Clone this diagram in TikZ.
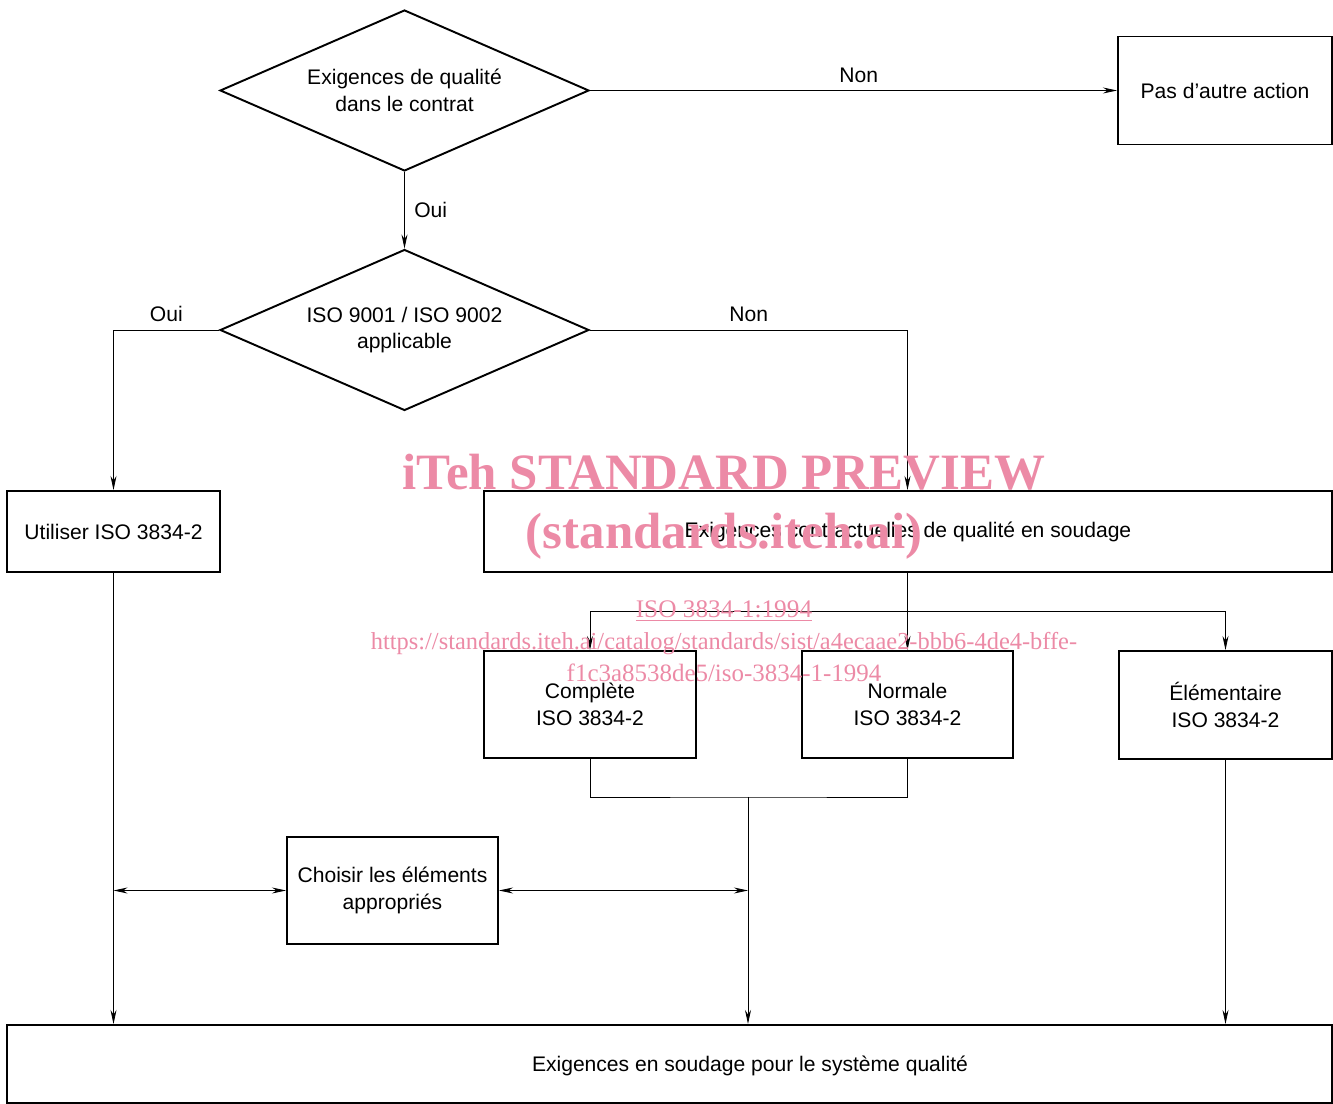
\documentclass[tikz,border=0pt]{standalone}
\usepackage{fontspec}
\setmainfont{Liberation Sans}
\newfontfamily\wmfont{Liberation Serif}
\usepackage{tikz}
\usetikzlibrary{arrows.meta,shapes.geometric,calc}
\definecolor{wmpink}{RGB}{236,138,166}

\begin{document}
\begin{tikzpicture}[x=0.02cm,y=-0.02cm,
    font=\fontsize{12}{15}\selectfont,
    >={Stealth[length=8pt,width=3.4pt]},
    box/.style={draw, line width=1.1pt, align=center, inner sep=0pt},
    decision/.style={draw, diamond, line width=1.1pt, align=center, inner sep=0pt,
        aspect=2.3, minimum width=7.38cm, minimum height=3.22cm},
    link/.style={line width=0.5pt},
    wm/.style={text=wmpink, inner sep=0pt, anchor=base}]
    \useasboundingbox (0,0) rectangle (1333,1104);

    % Decisions
    \node[decision] (contrat) at (404.5,90.5) {Exigences de qualité\\dans le contrat};
    \node[decision] (iso) at (404.5,330) {ISO 9001 / ISO 9002\\applicable};

    % Boxes
    \node[box, minimum width=4.28cm, minimum height=2.16cm] (aucune) at (1225,90.5) {Pas d’autre action};
    \node[box, minimum width=4.26cm, minimum height=1.62cm] (utiliser) at (113.5,531.5) {Utiliser ISO 3834-2};
    \node[box, minimum width=16.96cm, minimum height=1.62cm] (contractuelles) at (908,531.5) {Exigences contractuelles de qualité en soudage};
    \node[box, minimum width=4.24cm, minimum height=2.14cm] (complete) at (590,704.5) {Complète\\ISO 3834-2};
    \node[box, minimum width=4.22cm, minimum height=2.14cm] (normale) at (907.5,704.5) {Normale\\ISO 3834-2};
    \node[box, minimum width=4.26cm, minimum height=2.16cm] (elementaire) at (1225.5,705) {Élémentaire\\ISO 3834-2};
    \node[box, minimum width=4.22cm, minimum height=2.14cm] (choisir) at (392.5,890.5) {Choisir les éléments\\appropriés};
    \node[box, minimum width=26.5cm, minimum height=1.56cm] (systeme) at (669.5,1064) {};
    \node (systemetxt) at (750,1066) {Exigences en soudage pour le système qualité};

    % Decision branches
    \draw[link, ->] (contrat.east) -- (aucune.west) node[pos=0.51, above=1pt] {Non};
    \draw[link, ->] (contrat.south) -- (iso.north) node[midway, right=2pt] {Oui};
    \draw[link, ->] (iso.west) -| (utiliser.north) node[pos=0.25, above=1pt] {Oui};
    \draw[link, ->] (iso.east) -| (normale.north |- contractuelles.north) node[pos=0.25, above=1pt] {Non};

    % Levels
    \coordinate (split) at (907.5,611);
    \draw[link, ->] (normale.north |- contractuelles.south) -- (normale.north);
    \draw[link, ->] (split) -| (complete.north);
    \draw[link, ->] (split) -| (elementaire.north);

    % Join to the bottom box
    \coordinate (join) at (748,797);
    \draw[link] (complete.south) |- (join) -| (normale.south);
    \draw[link, ->] (join) -- (join |- systeme.north);
    \draw[link, ->] (utiliser.south) -- (utiliser.south |- systeme.north);
    \draw[link, ->] (elementaire.south) -- (elementaire.south |- systeme.north);
    \draw[link, <->] (utiliser.south |- choisir.west) -- (choisir.west);
    \draw[link, <->] (choisir.east) -- (join |- choisir.east);

    % Watermark
    \node[wm, font=\wmfont\bfseries\fontsize{29}{29}\selectfont] (wm1) at (724,490) {iTeh STANDARD PREVIEW};
    \node[wm, font=\wmfont\bfseries\fontsize{29}{29}\selectfont] (wm2) at (724,549) {(standards.iteh.ai)};
    \node[wm, font=\wmfont\fontsize{14.4}{14.4}\selectfont] (wm3) at (724,618) {\underline{ISO 3834-1:1994}};
    \node[wm, font=\wmfont\fontsize{13.9}{13.9}\selectfont] (wm4) at (724,650) {https://standards.iteh.ai/catalog/standards/sist/a4ecaae2-bbb6-4de4-bffe-};
    \node[wm, font=\wmfont\fontsize{14.2}{14.2}\selectfont] (wm5) at (724,682) {f1c3a8538de5/iso-3834-1-1994};

\end{tikzpicture}
\end{document}
